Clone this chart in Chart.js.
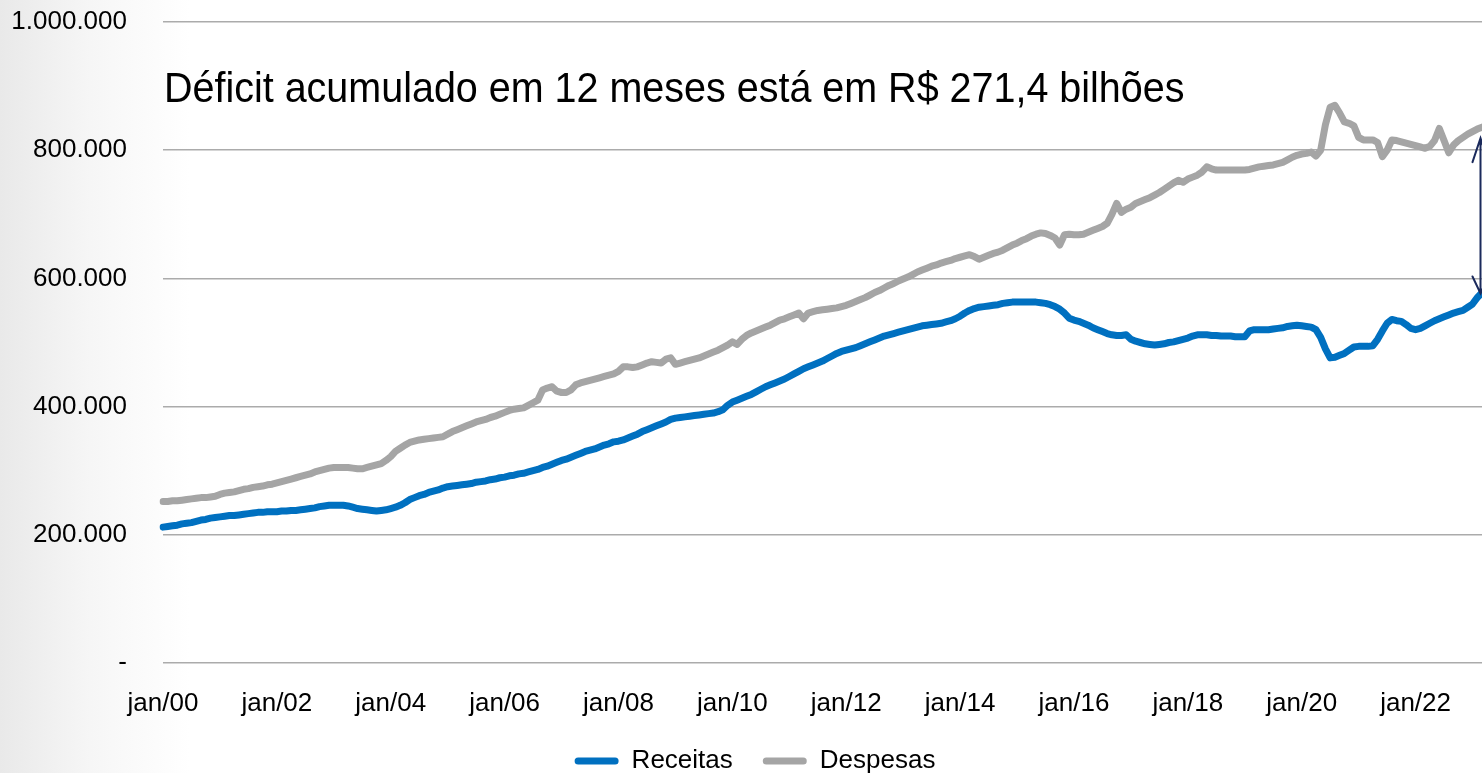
<!DOCTYPE html>
<html lang="pt-BR">
<head>
<meta charset="utf-8">
<title>Receitas e Despesas</title>
<script src="https://cdn.jsdelivr.net/npm/chart.js@4.4.1/dist/chart.umd.min.js"></script>
<style>
  html, body { margin: 0; padding: 0; }
  body {
    width: 1482px; height: 773px; overflow: hidden;
    background: linear-gradient(90deg, #e9e9e9 0px, #f6f6f6 90px, #ffffff 190px);
  }
  #wrap { position: relative; width: 1482px; height: 773px; }
</style>
</head>
<body>
<div id="wrap"><canvas id="c"></canvas></div>
<script>
// ---- DATA ----
const MONTHS = ['jan','fev','mar','abr','mai','jun','jul','ago','set','out','nov','dez'];
const YEARS = ['00','01','02','03','04','05','06','07','08','09','10','11','12','13','14','15','16','17','18','19','20','21','22','23'];
const LAST_YEAR_MONTHS = 3; // data through mar/23

const TITLE_TEXT = 'Déficit acumulado em 12 meses está em R$ 271,4 bilhões';
const SERIES_NAMES = ['Receitas', 'Despesas'];
const Y_TICKS = [0, 200000, 400000, 600000, 800000, 1000000];

// Receitas, acumulado 12 meses (R$ milhões), jan/00 .. mar/23
const receitas = [
  212000,213000,214000,215000,217000,218000,219000,221000,223000,224000,226000,227000,
  228000,229000,230000,230000,231000,232000,233000,234000,235000,235000,236000,236000,
  236000,237000,237000,238000,238000,239000,240000,241000,242000,244000,245000,246000,
  246000,246000,246000,245000,243000,241000,240000,239000,238000,237000,238000,239000,
  241000,243000,246000,250000,255000,258000,261000,263000,266000,268000,270000,273000,
  275000,276000,277000,278000,279000,280000,282000,283000,284000,286000,287000,289000,
  290000,292000,293000,295000,296000,298000,300000,302000,305000,307000,310000,313000,
  316000,318000,321000,324000,327000,330000,332000,334000,337000,340000,342000,345000,
  346000,348000,351000,354000,357000,361000,364000,367000,370000,373000,376000,380000,
  382000,383000,384000,385000,386000,387000,388000,389000,390000,392000,395000,402000,
  407000,410000,413000,416000,419000,423000,427000,431000,434000,437000,440000,443000,
  447000,451000,455000,459000,462000,465000,468000,471000,475000,479000,483000,486000,
  488000,490000,492000,495000,498000,501000,504000,507000,510000,512000,514000,516000,
  518000,520000,522000,524000,526000,527000,528000,529000,530000,532000,534000,537000,
  541000,546000,550000,553000,555000,556000,557000,558000,559000,561000,562000,563000,
  563000,563000,563000,563000,563000,562000,561000,559000,556000,552000,546000,538000,
  535000,533000,530000,527000,523000,520000,517000,514000,512000,511000,511000,512000,
  505000,502000,500000,498000,497000,496000,497000,498000,500000,501000,503000,505000,
  507000,510000,512000,512000,512000,511000,511000,510000,510000,510000,509000,509000,
  509000,518000,520000,520000,520000,520000,521000,522000,523000,525000,526000,527000,
  526000,525000,524000,520000,508000,490000,476000,477000,480000,483000,488000,493000,
  494000,494000,494000,495000,505000,518000,530000,536000,534000,533000,528000,522000,
  520000,522000,526000,530000,534000,537000,540000,543000,546000,548000,550000,555000,
  560000,570000,578000
];

// Despesas, acumulado 12 meses (R$ milhões), jan/00 .. mar/23
const despesas = [
  252000,252000,253000,253000,254000,255000,256000,257000,258000,258000,259000,260000,
  263000,265000,266000,267000,269000,271000,272000,274000,275000,276000,278000,279000,
  281000,283000,285000,287000,289000,291000,293000,295000,298000,300000,302000,304000,
  305000,305000,305000,305000,304000,303000,303000,305000,307000,309000,311000,316000,
  322000,330000,335000,340000,344000,346000,348000,349000,350000,351000,352000,353000,
  357000,361000,364000,367000,370000,373000,376000,378000,380000,383000,385000,388000,
  391000,394000,396000,397000,398000,402000,406000,410000,426000,429000,431000,424000,
  422000,422000,426000,434000,437000,439000,441000,443000,445000,447000,449000,451000,
  455000,462000,462000,461000,462000,465000,468000,470000,469000,468000,474000,476000,
  466000,468000,470000,472000,474000,476000,479000,482000,485000,488000,492000,496000,
  501000,497000,505000,511000,515000,518000,521000,524000,527000,531000,535000,537000,
  540000,543000,546000,537000,546000,548000,550000,551000,552000,553000,554000,556000,
  558000,561000,564000,567000,570000,574000,578000,581000,585000,589000,592000,596000,
  599000,602000,606000,610000,613000,616000,619000,621000,624000,626000,628000,631000,
  633000,635000,637000,634000,630000,633000,636000,639000,641000,644000,648000,652000,
  655000,659000,662000,666000,669000,671000,670000,667000,663000,652000,668000,669000,
  668000,668000,669000,672000,675000,678000,681000,686000,700000,717000,703000,708000,
  711000,717000,720000,723000,726000,730000,734000,739000,744000,749000,753000,750000,
  755000,758000,761000,766000,774000,771000,769000,769000,769000,769000,769000,769000,
  769000,770000,772000,774000,775000,776000,777000,779000,781000,785000,789000,792000,
  794000,795000,797000,791000,800000,840000,867000,870000,858000,844000,842000,838000,
  820000,816000,816000,816000,812000,790000,800000,816000,815000,813000,811000,809000,
  807000,805000,803000,806000,815000,834000,815000,796000,808000,815000,820000,825000,
  829000,833000,836000
];

// category labels: jan/00 ... mar/23
const categories = [];
YEARS.forEach((yy, yi) => {
  const n = (yi === YEARS.length - 1) ? LAST_YEAR_MONTHS : 12;
  for (let m = 0; m < n; m++) categories.push(MONTHS[m] + '/' + yy);
});

// ---- STYLE ----
const BLUE = '#0070C0';
const GRAY = '#A5A5A5';
const FONT = '"Liberation Sans", Arial, Helvetica, sans-serif';

function fmtThousands(v) {
  if (v === 0) return '-';
  return String(Math.round(v)).replace(/\B(?=(\d{3})+(?!\d))/g, '.');
}

const titlePlugin = {
  id: 'insideTitle',
  afterDatasetsDraw(chart) {
    const { ctx, chartArea } = chart;
    ctx.save();
    ctx.font = '42px ' + FONT;
    ctx.fillStyle = '#000';
    ctx.textBaseline = 'alphabetic';
    ctx.textAlign = 'left';
    ctx.translate(chartArea.left + 1, 102);
    ctx.scale(0.94, 1);
    ctx.fillText(TITLE_TEXT, 0, 0);
    ctx.restore();
  }
};

const arrowPlugin = {
  id: 'gapArrow',
  afterDatasetsDraw(chart) {
    const { ctx } = chart;
    const xs = chart.scales.x, ys = chart.scales.y;
    const i = receitas.length - 1;
    const x = xs.getPixelForValue(i) - 1.5;
    const yTop = ys.getPixelForValue(despesas[i]) + 11;
    const yBot = ys.getPixelForValue(receitas[i]) + 1;
    ctx.save();
    ctx.strokeStyle = '#1B2A5C';
    ctx.lineWidth = 2;
    ctx.lineCap = 'round';
    ctx.beginPath();
    ctx.moveTo(x, yTop); ctx.lineTo(x, yBot);
    ctx.moveTo(x - 8, yTop + 24); ctx.lineTo(x, yTop); ctx.lineTo(x + 8, yTop + 24);
    ctx.moveTo(x - 8, yBot - 17); ctx.lineTo(x, yBot); ctx.lineTo(x + 8, yBot - 17);
    ctx.stroke();
    ctx.restore();
  }
};

// legend in the reference sits slightly right of the canvas centre
const legendShift = {
  id: 'legendShift',
  afterLayout(chart) {
    if (chart.legend) { chart.legend.left += 14; chart.legend.right += 14; }
  }
};

new Chart(document.getElementById('c'), {
  type: 'line',
  data: {
    labels: categories,
    datasets: [
      {
        label: SERIES_NAMES[0],
        data: receitas,
        borderColor: BLUE,
        backgroundColor: BLUE,
        borderWidth: 7,
        pointRadius: 0,
        tension: 0,
        borderJoinStyle: 'round',
        borderCapStyle: 'round'
      },
      {
        label: SERIES_NAMES[1],
        data: despesas,
        borderColor: GRAY,
        backgroundColor: GRAY,
        borderWidth: 7,
        pointRadius: 0,
        tension: 0,
        borderJoinStyle: 'round',
        borderCapStyle: 'round'
      }
    ]
  },
  options: {
    responsive: true,
    maintainAspectRatio: false,
    animation: false,
    devicePixelRatio: 1,
    layout: { padding: { top: 22, right: 0, left: 0, bottom: -11 } },
    plugins: {
      title: { display: false },
      tooltip: { enabled: false },
      legend: {
        position: 'bottom',
        align: 'center',
        labels: {
          font: { family: FONT, size: 26 },
          color: '#000',
          boxWidth: 44,
          boxHeight: 7,
          useBorderRadius: true,
          borderRadius: 3.5,
          padding: 30,
          generateLabels(chart) {
            const items = Chart.defaults.plugins.legend.labels.generateLabels(chart);
            items.forEach(it => { it.lineWidth = 0; it.strokeStyle = 'rgba(0,0,0,0)'; });
            return items;
          }
        }
      }
    },
    scales: {
      x: {
        type: 'category',
        offset: false,
        grid: { display: false, drawTicks: false },
        border: { display: false },
        afterFit(scale) { scale.height = 55; scale.paddingLeft = 0; scale.paddingRight = 0; },
        ticks: {
          autoSkip: false,
          maxRotation: 0,
          minRotation: 0,
          padding: 25,
          color: '#000',
          font: { family: FONT, size: 26 },
          callback: function (val, idx) {
            return idx % 24 === 0 ? categories[idx] : '';
          }
        }
      },
      y: {
        min: 0,
        max: 1000000,
        afterBuildTicks(scale) { scale.ticks = Y_TICKS.map(v => ({ value: v })); },
        afterFit(scale) { scale.width = 163; scale.paddingTop = 0; scale.paddingBottom = 0; },
        grid: { color: '#ABABAB', lineWidth: 1.5, drawTicks: false },
        border: { display: false },
        ticks: {
          padding: 36,
          color: '#000',
          font: { family: FONT, size: 26 },
          callback: v => fmtThousands(v)
        }
      }
    }
  },
  plugins: [titlePlugin, arrowPlugin, legendShift]
});
</script>
</body>
</html>
